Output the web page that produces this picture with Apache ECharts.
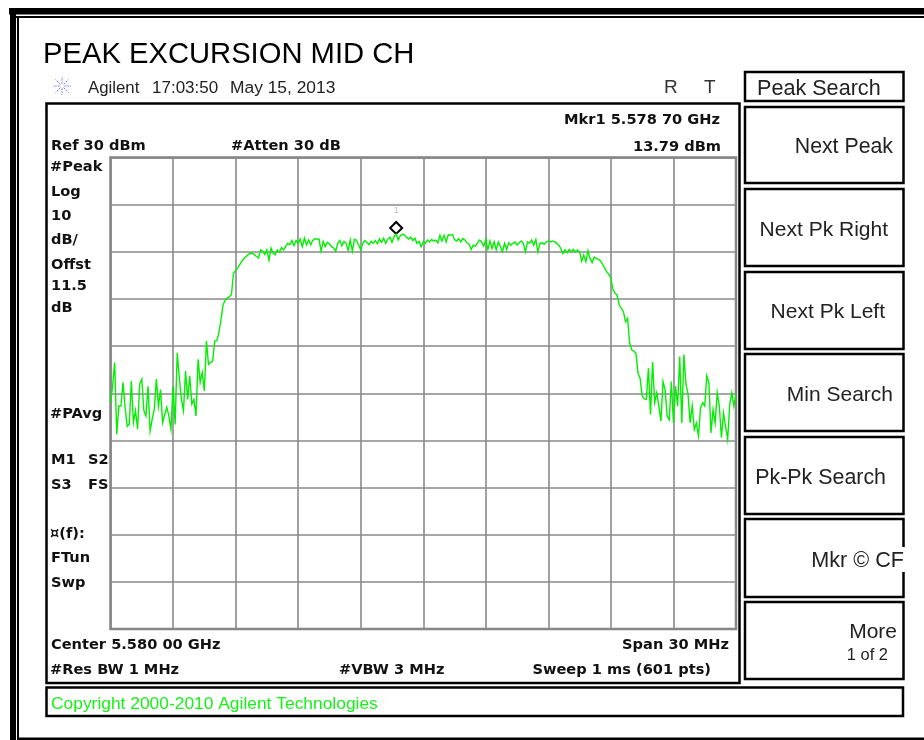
<!DOCTYPE html>
<html><head><meta charset="utf-8">
<script src="https://cdn.jsdelivr.net/npm/echarts@6/dist/echarts.min.js"></script>
<style>html,body{margin:0;padding:0;background:#fff}#c{width:924px;height:740px}</style>
</head><body><div id="c"></div>
<script>
const startMHz = 5565, stopMHz = 5595, stepMHz = 0.1;
const markerMHz = 5578.7, markerDbm = 13.79;
const leftNoise = [-22,-18.5,-13.5,-28.7,-22.7,-22.7,-17.7,-23,-27,-26.6,-17.4,-26.2,-23.7,-27.6,-18,-17,-23.7,-24.8,-18.5,-28,-25.5,-23.4,-17,-22.7,-19.2,-26.2,-24.5,-23,-24.8,-27.6,-18.5,-26.6,-11.4,-16.7,-21.3,-23.7,-15.3,-21.3,-16.3,-22.3,-21.3,-24.8,-12.8,-17.7,-15.6,-19.5,-8.9,-13.9,-13.5,-13.2,-8.9,-8.9,-7.1];
const riseEdge = [-4.4,-1.2,-0.3,0.2,0.5,0.9,5.5,6,6.6,7.3,8,8.6,9,9.4,9.7];
const plateauLeft = [9.7,9.4,9,8.7,10.4,10.1,9.4,10.4,8.2,10.8,9.7,9.4,10.4,9.9,10.9,10.4,11.1,11.8,11.5,12.4,11.3,12.4,11.8,12.7,11.1,12.9,11.5,12.5,11.5,12.4,12.7,12.7,12.7,10.1,12.2,11.1,12,11.7,11.1,10.8,10.1,11.8,12.4,11.3,12.2,11.8,10.3,12.5,10.1,12.7,12.4,11.5,10.4,11.8,12.4,12,11.5,12.2,11.8,12.4,11.7,12.7,12,12.9,11.8,12.7,13.1,12,13.2,13.79,12.5,13.4,13.7,13.6,13.1,12.7,13.1,12.4,12.9,11.8,12.2];
const plateauRight = [11.1,12.1,11.8,12.5,12.1,12.6,12.3,12.5,11.9,13.5,12.3,13.5,12.1,13.6,13.5,13.7,12.6,12.3,12.8,12.1,12.8,12.5,11.9,11.6,10.5,11.4,11.2,11.9,12.5,12.1,11.2,12.6,10.5,12.3,10.7,12.1,10.4,12.1,11.1,10,11.8,10.5,11.9,11.4,11.8,12.1,11.4,11.9,12.3,11.8,10,12.1,11.8,12.5,11.4,12.6,10,11.8,11.9,11.6,12.1,12.3,12.1,12.3,12.1,11.8,11.4,10.7,9.6,10.4,9.8,10.5,10,10.5,10,10.4,10,8,9.3,7.9,10.2,8.6,7.7,8.9,8.6,8.4];
const fallEdge = [8.1,7.4,6.5,5.8,5.2,4.4,2,1.2,0.8,-1.3,-2,-2.7,-4.8,-4.1,-9.4,-10.8,-11.1,-11.5,-15.7,-16.8,-20.6,-21.2,-21.3];
const rightNoise = [-14.7,-24.5,-13.4,-22,-19.9,-22.7,-25.9,-17.5,-19.3,-24.9,-25.6,-17.5,-26.3,-18.5,-22.7,-12.2,-26.3,-11.8,-18.1,-20.2,-26.3,-22.7,-27.7,-26.3,-29.1,-23.1,-22,-22.7,-16.3,-17.8,-28.4,-23.5,-26.3,-19.9,-22.7,-29.4,-24.2,-27,-29.8,-22.4,-19.9,-22.7,-20.3];
const traceDbm = [].concat(leftNoise, riseEdge, plateauLeft, plateauRight, fallEdge, rightNoise);

const softKeys = [
  {t:'Peak Search',y0:72,y1:101,tx:757,ty:89,align:'left',size:21.6},
  {t:'Next Peak',y0:107,y1:183,tx:893,ty:147,align:'right',size:21.3},
  {t:'Next Pk Right',y0:189,y1:266,tx:888,ty:230,align:'right',size:21},
  {t:'Next Pk Left',y0:272,y1:349,tx:885,ty:312,align:'right',size:21},
  {t:'Min Search',y0:354,y1:431,tx:893,ty:395,align:'right',size:21},
  {t:'Pk-Pk Search',y0:437,y1:514,tx:886,ty:478,align:'right',size:21.4},
  {t:'Mkr © CF',y0:519,y1:597,tx:904,ty:561,align:'right',size:21.6,bg:true},
  {t:'More',y0:602,y1:679,tx:897,ty:632,align:'right',size:21}
];
const boldLabels = [
  ['Ref 30 dBm',51,146,'left'],['#Atten 30 dB',231,146,'left'],['Mkr1 5.578 70 GHz',720,120,'right'],['13.79 dBm',721,147,'right'],
  ['#Peak',50,167,'left'],['Log',51,192,'left'],['10',51,216,'left'],['dB/',51,240,'left'],['Offst',51,265,'left'],['11.5',51,286,'left'],['dB',51,308,'left'],
  ['#PAvg',50,414,'left'],['M1',51,460,'left'],['S2',88,460,'left'],['S3',51,485,'left'],['FS',88,485,'left'],['¤(f):',50,534,'left'],['FTun',51,558,'left'],['Swp',51,583,'left'],
  ['Center 5.580 00 GHz',51,645,'left'],['Span 30 MHz',729,645,'right'],['#Res BW 1 MHz',50,670,'left'],['#VBW 3 MHz',339,670,'left'],['Sweep 1 ms (601 pts)',711,670,'right']
];
const plainLabels = [
  ['Agilent',88,88,16.8],['17:03:50',152,88,17],['May 15, 2013',230,88,17.4]
];

const SANS = '"Liberation Sans", Arial, sans-serif';
const BOLD = '"DejaVu Sans", sans-serif';
function text(t,x,y,size,opt){opt=opt||{};return {type:'text',z:20,x:x,y:y,style:{text:t,x:0,y:0,fill:opt.fill||'#000',font:(opt.bold?'bold ':'')+size+'px '+(opt.family||SANS),textAlign:opt.align||'left',textVerticalAlign:'middle'}};}
function rect(x0,y0,x1,y1,fill,z){return {type:'rect',z:z||1,shape:{x:x0,y:y0,width:x1-x0,height:y1-y0},style:{fill:fill}};}
function box(x0,y0,x1,y1,w){return {type:'rect',z:2,shape:{x:x0,y:y0,width:x1-x0,height:y1-y0},style:{fill:'none',stroke:'#000',lineWidth:w}};}

const g = [];
g.push(rect(9,8,924,14.5,'#000'),rect(10,8,16,740,'#000'),rect(16,16,924,18,'#000'),rect(17,16,19,738,'#000'),rect(17,737.5,924,740,'#000'));
g.push(box(46.5,103.5,739.5,683,2.5),box(46.5,687.5,903,716,2.5));
softKeys.forEach(k=>{g.push(box(745,k.y0,903.5,k.y1,2.5));});
softKeys.forEach(k=>{
  if(k.bg) g.push(rect(896,547,906,572,'#fff',3));
  g.push(text(k.t,k.tx,k.ty,k.size,{align:k.align,fill:'#222'}));
});
g.push(text('1 of 2',888,655,16.5,{align:'right',fill:'#222'}));
g.push(text('PEAK EXCURSION MID CH',43,55,29.2));
plainLabels.forEach(l=>g.push(text(l[0],l[1],l[2],l[3],{fill:'#222'})));
g.push(text('R',664,88,19,{fill:'#333'}),text('T',704,88,19,{fill:'#333'}));
boldLabels.forEach(l=>g.push(text(l[0],l[1],l[2],14.6,{bold:true,family:BOLD,align:l[3],fill:'#111'})));
g.push(text('Copyright 2000-2010 Agilent Technologies',51,704,17.4,{fill:'#19f019'}));
// Agilent spark logo
[[0,-9],[0,9],[-9,0],[9,0],[-6.5,-6.5],[6.5,6.5],[-6.5,6.5],[6.5,-6.5]].forEach(d=>{
  g.push({type:'line',z:20,shape:{x1:62+d[0]*0.25,y1:86+d[1]*0.25,x2:62+d[0],y2:86+d[1]},style:{stroke:'#7f7fff',lineWidth:1,lineDash:[2,1]}});
});

const chart = echarts.init(document.getElementById('c'),null,{renderer:'canvas'});
chart.setOption({
  animation:false,
  backgroundColor:'#fff',
  graphic:g,
  grid:{left:110.5,top:157.5,width:625.5,height:471.5,show:true,borderColor:'#808080',borderWidth:2.5,backgroundColor:'transparent'},
  xAxis:{type:'value',min:startMHz,max:stopMHz,interval:3,axisLine:{show:false},axisTick:{show:false},axisLabel:{show:false},splitLine:{show:true,lineStyle:{color:'#8a8a8a',width:1.6}}},
  yAxis:{type:'value',min:-70,max:30,interval:10,axisLine:{show:false},axisTick:{show:false},axisLabel:{show:false},splitLine:{show:true,lineStyle:{color:'#8a8a8a',width:1.6}}},
  series:[{
    type:'line',showSymbol:false,symbol:'none',z:5,
    data:traceDbm.map((v,i)=>[startMHz+i*stepMHz,v]),
    lineStyle:{color:'#00f000',width:1.4,join:'miter'},
    markPoint:{
      silent:true,
      data:[{coord:[markerMHz,markerDbm],symbol:'diamond',symbolSize:[12,12],symbolOffset:[0,-6],
        itemStyle:{color:'rgba(255,255,255,0)',borderColor:'#000',borderWidth:2},
        label:{show:true,formatter:'1',position:'top',distance:6,fontSize:9,color:'#bbbbbb',fontFamily:SANS}}]
    }
  }]
});
</script></body></html>
